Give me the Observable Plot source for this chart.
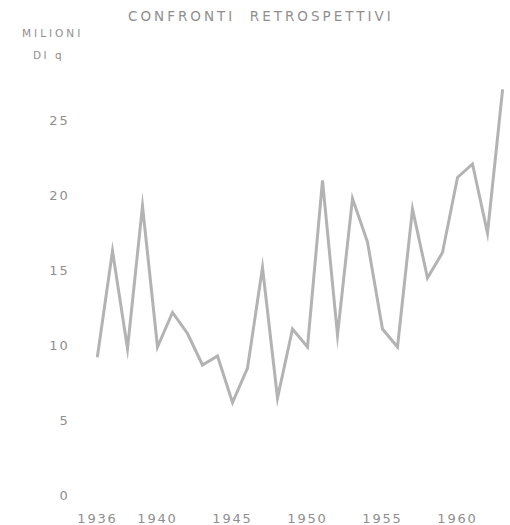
<!DOCTYPE html>
<html>
<head>
<meta charset="utf-8">
<script src="https://cdn.jsdelivr.net/npm/d3@7"></script>
<script src="https://cdn.jsdelivr.net/npm/@observablehq/plot@0.6"></script>
<style>
  html, body { margin: 0; padding: 0; background: #fff; }
  #wrap { position: relative; width: 510px; height: 525px; overflow: hidden; font-family: "DejaVu Sans", sans-serif; }
  #chart { position: absolute; left: 0; top: 0; }
  .lbl { position: absolute; color: #8f8f8f; white-space: nowrap; }
  #title { left: 128px; top: 8px; font-size: 13.5px; letter-spacing: 3px; }
  #unit1 { left: 22px; top: 27px; font-size: 10.5px; letter-spacing: 3px; }
  #unit2 { left: 33px; top: 49px; font-size: 10.5px; letter-spacing: 2.5px; }
  svg text { letter-spacing: 1.8px; }
</style>
</head>
<body>
<div id="wrap">
  <div id="chart"></div>
  <div class="lbl" id="title">CONFRONTI&nbsp; RETROSPETTIVI</div>
  <div class="lbl" id="unit1">MILIONI</div>
  <div class="lbl" id="unit2">DI q</div>
</div>
<script>
const years = [1936,1937,1938,1939,1940,1941,1942,1943,1944,1945,1946,1947,1948,1949,
               1950,1951,1952,1953,1954,1955,1956,1957,1958,1959,1960,1961,1962,1963];
const values = [9.3,16.3,9.8,19.3,9.9,12.2,10.8,8.7,9.3,6.2,8.5,15.2,6.5,11.1,
                9.9,21.0,10.7,19.8,16.9,11.1,9.9,19.1,14.5,16.2,21.2,22.1,17.5,27.0];
const xTicks = [1936,1940,1945,1950,1955,1960];
const yTicks = [0,5,10,15,20,25];

const data = years.map((y, i) => ({year: y, value: values[i]}));

const chart = Plot.plot({
  width: 510,
  height: 525,
  marginLeft: 97,
  marginRight: 8,
  marginTop: 120,
  marginBottom: 30,
  style: {fontFamily: "DejaVu Sans, sans-serif", fontSize: "13px", color: "#8f8f8f", background: "#fff"},
  x: {type: "linear", domain: [1936, 1963], ticks: xTicks, tickFormat: d => String(d), tickSize: 0, tickPadding: 18, label: null},
  y: {domain: [0, 25], ticks: yTicks, tickSize: 0, tickPadding: 28, label: null},
  marks: [
    Plot.line(data, {x: "year", y: "value", stroke: "#b3b3b3", strokeWidth: 3, strokeLinejoin: "miter", strokeMiterlimit: 10})
  ]
});
document.getElementById("chart").appendChild(chart);
</script>
</body>
</html>
